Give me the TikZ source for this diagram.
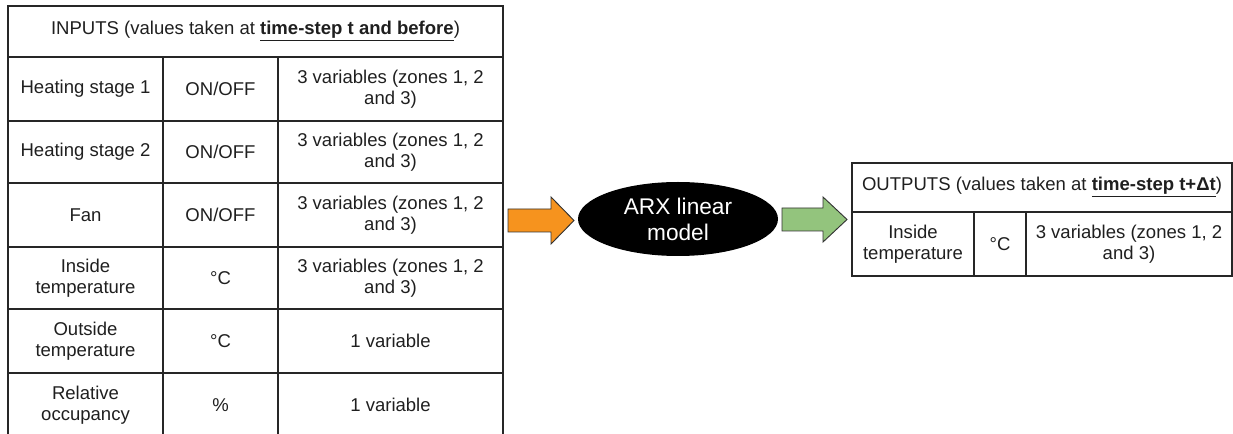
\documentclass[tikz,border=0pt]{standalone}
\usepackage{fontspec}
\setmainfont{Liberation Sans}
\usepackage{tikz}
\usetikzlibrary{shapes.geometric}

\definecolor{arrorange}{RGB}{246,147,30}
\definecolor{arrgreen}{RGB}{147,196,125}
\newcommand{\tabfont}{\fontsize{13.9}{15.8}\selectfont}

\begin{document}
\begin{tikzpicture}[x=0.75pt,y=0.75pt,yscale=-1,xscale=1,
  grid/.style={draw=black!85,line width=0.9pt},
  txt/.style={align=center,font=\tabfont,text=black!88,inner sep=0pt},
  blockarrow/.style={draw=black!80,line width=0.7pt,line join=miter}]
\useasboundingbox (0,0) rectangle (1233,434);
% inputs table
\draw[grid] (8,6) rectangle (503,437);
\foreach \y in {57,121,183,247,309,373}
  \draw[grid] (8,\y) -- (503,\y);
\draw[grid] (163,57) -- (163,437);
\draw[grid] (278,57) -- (278,437);
\node[txt] (inhead) at (255.5,31.5) {INPUTS (values taken at \underline{\textbf{time-step t and before}})};
\node[txt] (heat1) at (85.5,89) {Heating stage 1};
\node[txt] (heat1u) at (220.5,89) {ON/OFF};
\node[txt] (heat1v) at (390.5,89) {3 variables (zones 1, 2\\and 3)};
\node[txt] (heat2) at (85.5,152) {Heating stage 2};
\node[txt] (heat2u) at (220.5,152) {ON/OFF};
\node[txt] (heat2v) at (390.5,152) {3 variables (zones 1, 2\\and 3)};
\node[txt] (fan) at (85.5,215) {Fan};
\node[txt] (fanu) at (220.5,215) {ON/OFF};
\node[txt] (fanv) at (390.5,215) {3 variables (zones 1, 2\\and 3)};
\node[txt] (tin) at (85.5,278) {Inside\\temperature};
\node[txt] (tinu) at (220.5,278) {°C};
\node[txt] (tinv) at (390.5,278) {3 variables (zones 1, 2\\and 3)};
\node[txt] (tout) at (85.5,341) {Outside\\temperature};
\node[txt] (toutu) at (220.5,341) {°C};
\node[txt] (toutv) at (390.5,341) {1 variable};
\node[txt] (occ) at (85.5,405) {Relative\\occupancy};
\node[txt] (occu) at (220.5,405) {\%};
\node[txt] (occv) at (390.5,405) {1 variable};
% model
\draw[blockarrow,fill=arrorange] (508,209) -- (551,209) -- (551,197) -- (574,220.5) -- (551,244) -- (551,232) -- (508,232) -- cycle;
\node[ellipse,fill=black,minimum width=150pt,minimum height=55.5pt,inner sep=0pt,
  align=center,text=white,font=\fontsize{17}{19.5}\selectfont] (arx) at (678,219) {ARX linear\\model};
\draw[blockarrow,fill=arrgreen] (782,208) -- (823,208) -- (823,197) -- (847,219.5) -- (823,242) -- (823,231) -- (782,231) -- cycle;
% outputs table
\draw[grid] (852,163) rectangle (1232,276);
\draw[grid] (852,212) -- (1232,212);
\draw[grid] (974,212) -- (974,276);
\draw[grid] (1026,212) -- (1026,276);
\node[txt] (outhead) at (1042,187.5) {OUTPUTS (values taken at \underline{\textbf{time-step t+Δt}})};
\node[txt] (otin) at (913,244) {Inside\\temperature};
\node[txt] (otinu) at (1000,244) {°C};
\node[txt] (otinv) at (1129,244) {3 variables (zones 1, 2\\and 3)};
\end{tikzpicture}
\end{document}
